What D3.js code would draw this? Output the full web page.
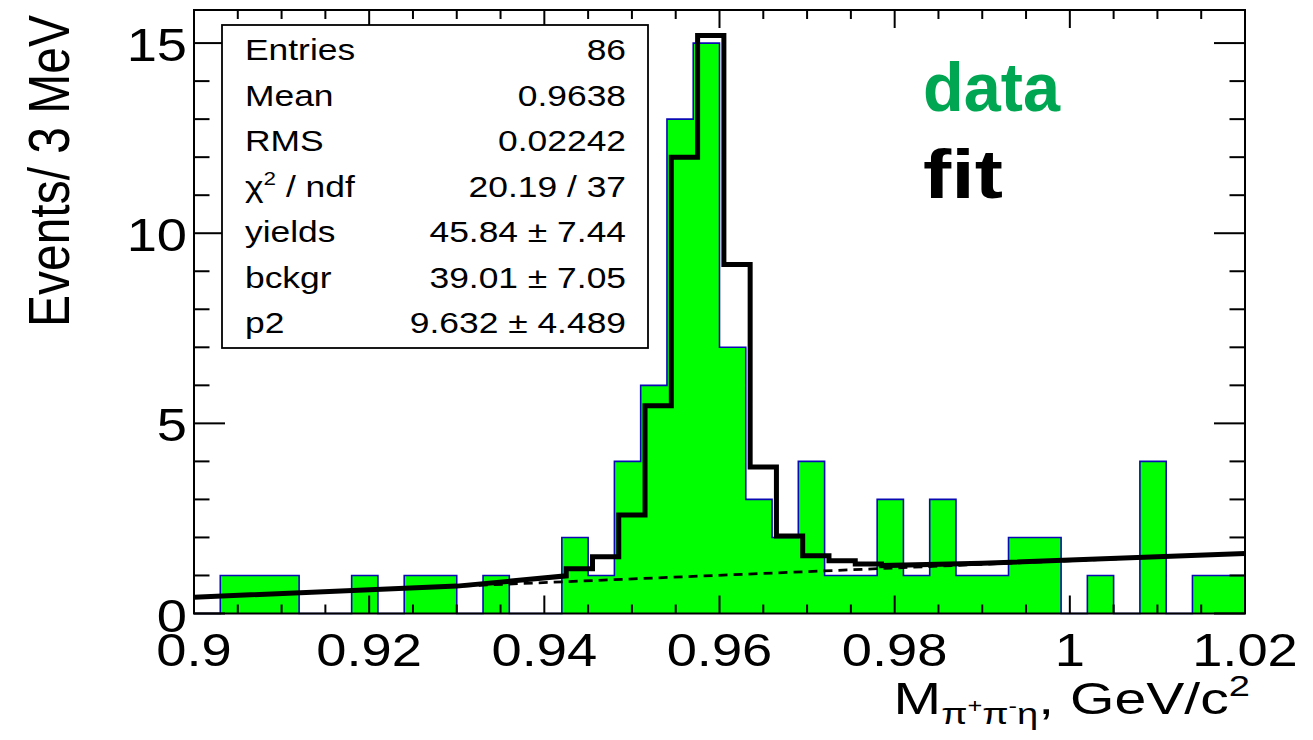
<!DOCTYPE html>
<html>
<head>
<meta charset="utf-8">
<script src="https://cdn.jsdelivr.net/npm/d3@7"></script>
<style>
  html, body { margin: 0; padding: 0; background: #fff; }
  svg { display: block; }
  text { font-family: "Liberation Sans", Arial, Helvetica, sans-serif; white-space: pre; }
</style>
</head>
<body>
<svg id="chart" width="1313" height="740"></svg>
<script>
// Histogram binning: 40 bins of 3 MeV from 0.90 to 1.02 GeV/c^2
const histLow = 0.9;
const histHigh = 1.02;
const binWidth = 0.003;
const binCounts = [
  0, 1, 1, 1, 0, 0, 1, 0, 1, 1,
  0, 1, 0, 0, 2, 1, 4, 6, 13, 15,
  7, 3, 2, 4, 1, 1, 3, 1, 3, 1,
  1, 2, 2, 0, 1, 0, 4, 0, 1, 1
];

// Total fit curve (signal shape + linear background), as [mass, events] vertices
const fitCurve = [
  [0.900, 0.43], [0.930, 0.72], [0.9365, 0.86], [0.9425, 0.99],
  [0.9425, 1.18], [0.9455, 1.18],
  [0.9455, 1.49], [0.9485, 1.49],
  [0.9485, 2.59], [0.9515, 2.59],
  [0.9515, 5.46], [0.9545, 5.46],
  [0.9545, 12.0], [0.9575, 12.0],
  [0.9575, 15.2], [0.9605, 15.2],
  [0.9605, 9.18], [0.9635, 9.18],
  [0.9635, 3.85], [0.9665, 3.85],
  [0.9665, 2.04], [0.9695, 2.04],
  [0.9695, 1.52], [0.9725, 1.52],
  [0.9725, 1.39], [0.9755, 1.39],
  [0.9755, 1.30], [0.9785, 1.30],
  [0.9785, 1.26], [0.990, 1.32], [1.020, 1.58]
];

// Background component (linear) endpoints
const bkgCurve = [[0.900, 0.43], [1.020, 1.58]];

// Axis ticks
const xMajorTicks = [0.9, 0.92, 0.94, 0.96, 0.98, 1.0, 1.02];
const xTickLabels = ["0.9", "0.92", "0.94", "0.96", "0.98", "1", "1.02"];
const xMinorStep = 0.005;
const yMajorTicks = [0, 5, 10, 15];
const yTickLabels = ["0", "5", "10", "15"];
const yMinorStep = 1;
const yMax = 15.87;

// Statistics box rows
const statNames = ["Entries", "Mean", "RMS", "χ2 / ndf", "yields", "bckgr", "p2"];
const statValues = ["86", "0.9638", "0.02242", "20.19 / 37", "45.84 ± 7.44", "39.01 ± 7.05", "9.632 ± 4.489"];

const legendLabels = ["data", "fit"];
const legendColors = ["#00a651", "#000000"];

// ---------------------------------------------------------------
const svg = d3.select("#chart");
const frame = { left: 194, right: 1245, top: 10, bottom: 613.5 };
const textStretch = 1.18;   // glyphs are drawn slightly wide, as in the original canvas

const x = d3.scaleLinear().domain([histLow, histHigh]).range([frame.left, frame.right]);
const y = d3.scaleLinear().domain([0, yMax]).range([frame.bottom, frame.top]);

// Helper: stretched text placed at (px, py)
function stext(parent, px, py, size, anchor, sx) {
  return parent.append("text")
    .attr("transform", `translate(${px},${py}) scale(${sx || textStretch},1)`)
    .attr("text-anchor", anchor || "start")
    .attr("font-size", size);
}

const bins = binCounts.map((c, i) => ({
  x0: histLow + i * binWidth,
  x1: histLow + (i + 1) * binWidth,
  n: c
}));

// Histogram as a step path: filled area and outline
const stepPts = [[histLow, 0]];
bins.forEach(b => { stepPts.push([b.x0, b.n]); stepPts.push([b.x1, b.n]); });
stepPts.push([histHigh, 0]);
const stepLine = d3.line().x(d => x(d[0])).y(d => y(d[1]));

svg.append("path")
  .attr("d", stepLine(stepPts) + "Z")
  .attr("fill", "#00ff00")
  .attr("stroke", "none");
svg.append("path")
  .attr("d", stepLine(stepPts))
  .attr("fill", "none")
  .attr("stroke", "#0a0ab4")
  .attr("stroke-width", 1.6);

// Background component, dashed
svg.append("path")
  .attr("d", stepLine(bkgCurve))
  .attr("fill", "none")
  .attr("stroke", "#000")
  .attr("stroke-width", 2.8)
  .attr("stroke-dasharray", "9,6");

// Total fit curve
svg.append("path")
  .attr("d", stepLine(fitCurve))
  .attr("fill", "none")
  .attr("stroke", "#000")
  .attr("stroke-width", 5)
  .attr("stroke-linejoin", "miter");

// Frame
svg.append("rect")
  .attr("x", frame.left).attr("y", frame.top)
  .attr("width", frame.right - frame.left)
  .attr("height", frame.bottom - frame.top)
  .attr("fill", "none").attr("stroke", "#000").attr("stroke-width", 2);

// Ticks on all four sides, pointing inward
const xMajLen = 18, xMinLen = 9, yMajLen = 31, yMinLen = 15.5;
const xMinor = d3.range(histLow, histHigh + 1e-9, xMinorStep).map(v => +v.toFixed(4));
const yMinor = d3.range(0, yMax, yMinorStep);

const ticks = svg.append("g").attr("stroke", "#000").attr("stroke-width", 2);
xMinor.forEach(v => {
  const isMajor = xMajorTicks.some(t => Math.abs(t - v) < 1e-6);
  const len = isMajor ? xMajLen : xMinLen;
  ticks.append("line").attr("x1", x(v)).attr("x2", x(v)).attr("y1", frame.bottom).attr("y2", frame.bottom - len);
  ticks.append("line").attr("x1", x(v)).attr("x2", x(v)).attr("y1", frame.top).attr("y2", frame.top + len);
});
yMinor.forEach(v => {
  const isMajor = yMajorTicks.includes(v);
  const len = isMajor ? yMajLen : yMinLen;
  ticks.append("line").attr("x1", frame.left).attr("x2", frame.left + len).attr("y1", y(v)).attr("y2", y(v));
  ticks.append("line").attr("x1", frame.right).attr("x2", frame.right - len).attr("y1", y(v)).attr("y2", y(v));
});

// Tick labels
const labelSize = 46;
xMajorTicks.forEach((v, i) => {
  stext(svg, x(v), 666, labelSize, "middle").text(xTickLabels[i]);
});
yMajorTicks.forEach((v, i) => {
  stext(svg, 187, y(v) + 18, labelSize, "end").text(yTickLabels[i]);
});

// Axis titles
svg.append("text")
  .attr("transform", "translate(69,15) scale(1.2,1) rotate(-90)")
  .attr("text-anchor", "end")
  .attr("font-size", 48)
  .text("Events/ 3 MeV");

const xt = stext(svg, 1250, 714, 45, "end", 1.27);
xt.append("tspan").text("M");
xt.append("tspan").attr("font-size", 30).attr("dy", 10).text("π");
xt.append("tspan").attr("font-size", 20).attr("dy", -11).text("+");
xt.append("tspan").attr("font-size", 30).attr("dy", 11).text("π");
xt.append("tspan").attr("font-size", 20).attr("dy", -11).text("-");
xt.append("tspan").attr("font-size", 30).attr("dy", 11).text("η");
xt.append("tspan").attr("dy", -10).text(", GeV/c");
xt.append("tspan").attr("font-size", 30).attr("dy", -18).text("2");

// Statistics box
const box = { left: 222, top: 25, right: 648, bottom: 348 };
svg.append("rect")
  .attr("x", box.left).attr("y", box.top)
  .attr("width", box.right - box.left).attr("height", box.bottom - box.top)
  .attr("fill", "#fff").attr("stroke", "#000").attr("stroke-width", 1.8);

const rowY = d3.scaleLinear().domain([0, statNames.length - 1]).range([60, 333]);
const statSize = 30;
const valueMaxWidth = 224;
statNames.forEach((name, i) => {
  const t = stext(svg, 245, rowY(i), statSize, "start");
  if (name.startsWith("χ2")) {
    t.append("tspan").text("χ");
    t.append("tspan").attr("font-size", 19).attr("dy", -12).text("2");
    t.append("tspan").attr("dy", 12).text(" / ndf");
  } else {
    t.text(name);
  }
  const v = stext(svg, 626, rowY(i), statSize, "end").text(statValues[i]);
  // squeeze values that would run too far into the label column
  const w = v.node().getComputedTextLength() * textStretch;
  if (w > valueMaxWidth) {
    v.attr("transform", `translate(626,${rowY(i)}) scale(${textStretch * valueMaxWidth / w},1)`);
  }
});

// Legend words
const legendWidths = [137, 80];
legendLabels.forEach((lbl, i) => {
  svg.append("text")
    .attr("x", 923).attr("y", 111 + i * 87)
    .attr("font-family", "'Comic Sans MS', 'Lato', 'Noto Sans', sans-serif")
    .attr("font-weight", "bold")
    .attr("font-size", 68)
    .attr("textLength", legendWidths[i])
    .attr("lengthAdjust", "spacingAndGlyphs")
    .attr("fill", legendColors[i])
    .text(lbl);
});
</script>
</body>
</html>
